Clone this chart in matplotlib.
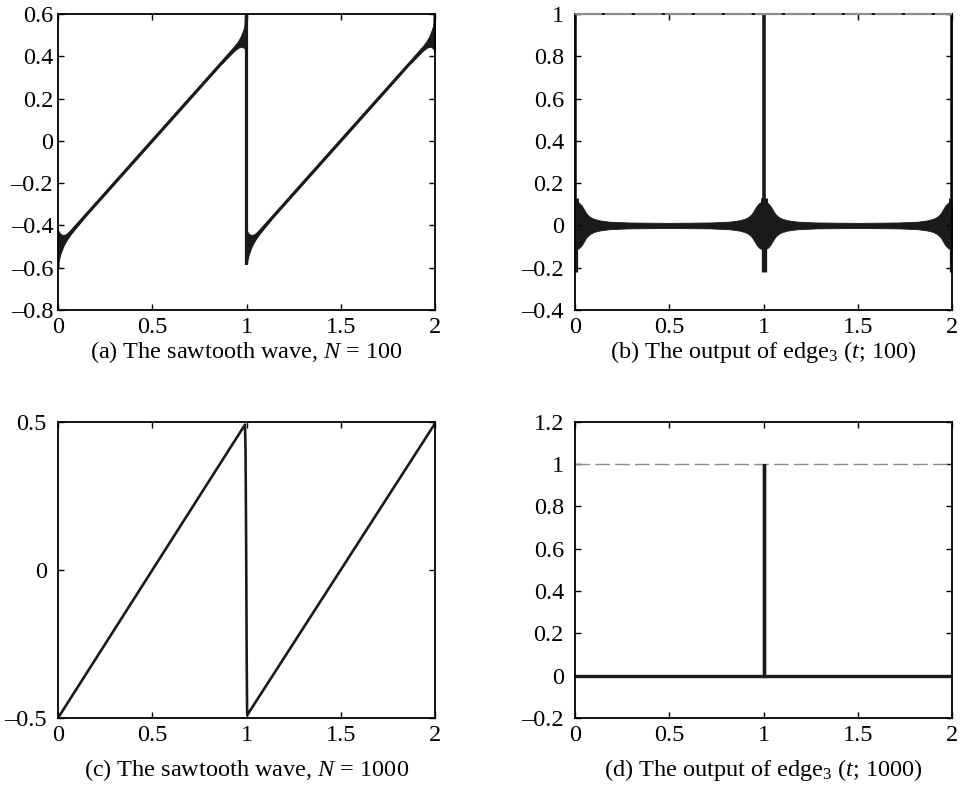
import numpy as np
import matplotlib
matplotlib.use("Agg")
import matplotlib.pyplot as plt

plt.rcParams['font.family'] = ['Liberation Serif', 'DejaVu Serif']
plt.rcParams['mathtext.fontset'] = 'custom'
plt.rcParams['mathtext.rm'] = 'Liberation Serif'
plt.rcParams['mathtext.it'] = 'Liberation Serif:italic'
plt.rcParams['mathtext.bf'] = 'Liberation Serif:bold'

# ---------------- data ----------------
x_ticks = [0, 0.5, 1, 1.5, 2]
x_ticklabels = ['0', '0.5', '1', '1.5', '2']

# (a) sawtooth partial sum, N = 100 (path of the curve)
saw100_t = [0.000, 0.000, 0.004, 0.996, 1.000, 1.000, 1.004, 1.996, 2.000, 2.000]
saw100_y = [-0.60, -0.44, -0.496, 0.496, 0.60, -0.585, -0.496, 0.496, 0.44, 0.60]
jumps = [0.0, 1.0, 2.0]
# Gibbs oscillation envelope (half-width) vs distance from a jump
gibbs_d = [0.000, 0.005, 0.010, 0.020, 0.030, 0.045, 0.065, 0.090, 0.130]
gibbs_hw100 = [0.075, 0.065, 0.052, 0.036, 0.024, 0.015, 0.009, 0.006, 0.003]
yticks_a = [-0.8, -0.6, -0.4, -0.2, 0, 0.2, 0.4, 0.6]
ylabels_a = ['\u20130.8', '\u20130.6', '\u20130.4', '\u20130.2', '0', '0.2', '0.4', '0.6']

# (b) output of edge_3(t; 100)
edge100_d = [0.000, 0.015, 0.025, 0.035, 0.045, 0.055, 0.065, 0.080, 0.100,
             0.130, 0.180, 0.280, 0.500]
edge100_hw = [0.112, 0.110, 0.104, 0.094, 0.080, 0.064, 0.052, 0.040, 0.031,
              0.024, 0.018, 0.014, 0.012]
edge100_peak = 1.0
edge100_upper_stub = 0.13
edge100_low = -0.22
yticks_b = [-0.4, -0.2, 0, 0.2, 0.4, 0.6, 0.8, 1]
ylabels_b = ['\u20130.4', '\u20130.2', '0', '0.2', '0.4', '0.6', '0.8', '1']

# (c) sawtooth partial sum, N = 1000
saw1000_t = [0.000, 0.000, 0.992, 0.995, 0.998, 1.001, 1.003, 1.004, 1.996, 2.000]
saw1000_y = [-0.49, -0.50, 0.49, 0.40, 0.10, -0.30, -0.46, -0.49, 0.49, 0.50]
yticks_c = [-0.5, 0, 0.5]
ylabels_c = ['\u20130.5', '0', '0.5']

# (d) output of edge_3(t; 1000)
edge1000_t = [0.0, 1.0, 1.0, 1.0, 2.0]
edge1000_y = [0.0, 0.0, 1.0, 0.0, 0.0]
yticks_d = [-0.2, 0, 0.2, 0.4, 0.6, 0.8, 1, 1.2]
ylabels_d = ['\u20130.2', '0', '0.2', '0.4', '0.6', '0.8', '1', '1.2']

reference_level = 1.0

captions = [r'(a) The sawtooth wave, $N$ = 100',
            r'(b) The output of edge$_3$ ($t$; 100)',
            r'(c) The sawtooth wave, $N$ = 1000',
            r'(d) The output of edge$_3$ ($t$; 1000)']

# ---------------- figure ----------------
W, H = 966, 788
fig = plt.figure(figsize=(W / 100, H / 100), dpi=100)


def px_axes(l, t, r, b):
    return fig.add_axes([l / W, 1 - b / H, (r - l) / W, (b - t) / H])


ax_a = px_axes(58, 14, 435, 310)
ax_b = px_axes(575, 14, 952, 310)
ax_c = px_axes(58, 421.7, 435, 718)
ax_d = px_axes(575, 421.7, 952, 718)

FS = 17.5
INK = '#1a1a1a'


def style(ax, ylim, yt, yl, ypad):
    ax.set_xlim(0, 2)
    ax.set_ylim(*ylim)
    ax.set_xticks(x_ticks)
    ax.set_xticklabels(x_ticklabels)
    ax.set_yticks(yt)
    ax.set_yticklabels(yl)
    ax.tick_params(direction='in', length=4, width=1.0, top=True, right=True,
                   labelsize=FS, colors='black')
    ax.tick_params(axis='x', pad=5)
    ax.tick_params(axis='y', pad=ypad)
    for s in ax.spines.values():
        s.set_linewidth(1.3)
        s.set_color('black')


# (a)
style(ax_a, (-0.8, 0.6), yticks_a, ylabels_a, 3.5)
ax_a.plot(saw100_t, saw100_y, color=INK, lw=2.3, solid_joinstyle='miter')
d = np.array(gibbs_d)
hw = np.array(gibbs_hw100)
for j in jumps:
    for side in (-1, 1):
        xs = j + side * d
        if xs.min() < -1e-9 or xs.max() > 2 + 1e-9:
            continue
        # centre line of the sawtooth on this side of the jump
        centre = (0.5 - d) if side < 0 else (-0.5 + d)
        ax_a.fill_between(xs, centre - hw, centre + hw, color=INK, lw=0.8,
                          edgecolor=INK)

# (b)
style(ax_b, (-0.4, 1.0), yticks_b, ylabels_b, 8)
d = np.array(edge100_d)
hw = np.array(edge100_hw)
for j in jumps:
    for side in (-1, 1):
        xs = j + side * d
        if xs.min() < -1e-9 or xs.max() > 2 + 1e-9:
            continue
        ax_b.fill_between(xs, -hw, hw, color=INK, lw=0.6, edgecolor=INK)
for j in jumps:
    ax_b.plot([j, j], [0, edge100_peak], color=INK, lw=2.6,
              solid_capstyle='butt')
    ax_b.plot([j, j], [0, edge100_upper_stub], color=INK, lw=5.0,
              solid_capstyle='butt')
    ax_b.plot([j, j], [edge100_low, 0], color=INK, lw=3.8,
              solid_capstyle='butt')
ax_b.axhline(reference_level, color='#8c8c8c', lw=1.6, dashes=(12, 1.5),
             clip_on=False, zorder=5)

# (c)
style(ax_c, (-0.5, 0.5), yticks_c, ylabels_c, 8)
ax_c.plot(saw1000_t, saw1000_y, color=INK, lw=1.9)

# (d)
style(ax_d, (-0.2, 1.2), yticks_d, ylabels_d, 8)
ax_d.axhline(reference_level, color='#8c8c8c', lw=1.0, dashes=(10.5, 3.8))
ax_d.plot(edge1000_t, edge1000_y, color=INK, lw=2.4, solid_joinstyle='miter')

# captions
for ax, cap, yc in [(ax_a, captions[0], 352), (ax_b, captions[1], 352),
                    (ax_c, captions[2], 770), (ax_d, captions[3], 770)]:
    bb = ax.get_position()
    fig.text((bb.x0 + bb.x1) / 2, 1 - yc / H, cap, ha='center', va='center',
             fontsize=FS)

fig.savefig('out.png', dpi=100)
